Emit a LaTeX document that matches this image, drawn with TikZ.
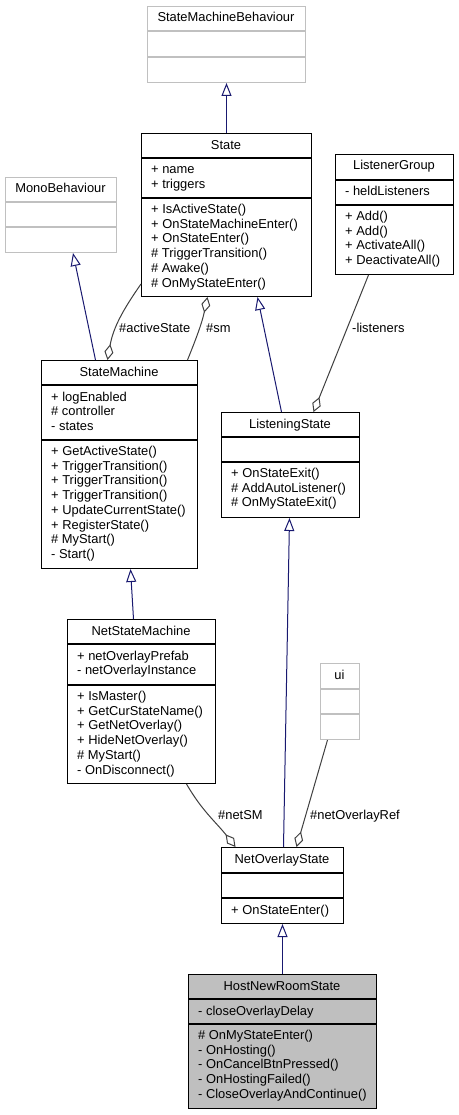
\documentclass[tikz,border=0pt]{standalone}
\usepackage{fontspec}
\setmainfont{Liberation Sans}
\usetikzlibrary{arrows.meta}
\definecolor{inh}{HTML}{191970}
\definecolor{agg}{HTML}{404040}
\definecolor{extgrey}{HTML}{C0C0C0}
\definecolor{hfill}{HTML}{BFBFBF}
\begin{document}
\begin{tikzpicture}[x=1pt,y=-1pt,
  every node/.style={font=\fontsize{12.9}{14.7}\selectfont},
  cls/.style={draw=black,line width=1pt,fill=white,inner sep=0,anchor=north west},
  extcls/.style={draw=extgrey,line width=1pt,fill=white,inner sep=0,anchor=north west},
  hcls/.style={draw=black,line width=1pt,fill=hfill,inner sep=0,anchor=north west},
  div/.style={draw=black,line width=1.5pt},
  extdiv/.style={draw=extgrey,line width=1.2pt},
  txt/.style={anchor=base west,inner sep=0},
  ttl/.style={anchor=base,inner sep=0},
  lbl/.style={anchor=base west,inner sep=0},
  inherit/.style={draw=inh,line width=1pt,-{Triangle[open,length=13pt,width=10pt]}},
  aggr/.style={draw=agg,line width=1pt,-{Diamond[open,length=16pt,width=9pt]}},
]
\newcommand\mline[4]{\node[txt] (#1) at (#2,#3) {#4};}
\useasboundingbox[fill=white] (0,0) rectangle (458,1115);

% StateMachineBehaviour
\node[extcls,minimum width=158,minimum height=76] (smb) at (147,6) {};
\draw[extdiv] (147,31) -- (305,31);
\draw[extdiv] (147,57) -- (305,57);
\node[ttl] (smb-t) at (226,22) {StateMachineBehaviour};

% State
\node[cls,minimum width=170,minimum height=163] (state) at (141,133) {};
\draw[div] (141,158) -- (311,158);
\draw[div] (141,198) -- (311,198);
\node[ttl] (state-t) at (226,149.3) {State};
\mline{st-a1}{151}{174}{+ name}
\mline{st-a2}{151}{188.7}{+ triggers}
\mline{st-m1}{151}{213.5}{+ IsActiveState()}
\mline{st-m2}{151}{228.2}{+ OnStateMachineEnter()}
\mline{st-m3}{151}{242.9}{+ OnStateEnter()}
\mline{st-m4}{151}{257.6}{\# TriggerTransition()}
\mline{st-m5}{151}{272.3}{\# Awake()}
\mline{st-m6}{151}{287}{\# OnMyStateEnter()}

% ListenerGroup
\node[cls,minimum width=118,minimum height=120] (lg) at (335,154) {};
\draw[div] (335,180) -- (453,180);
\draw[div] (335,205) -- (453,205);
\node[ttl] (lg-t) at (394,170) {ListenerGroup};
\mline{lg-a1}{345}{196}{- heldListeners}
\mline{lg-m1}{345}{220.5}{+ Add()}
\mline{lg-m2}{345}{235.2}{+ Add()}
\mline{lg-m3}{345}{249.9}{+ ActivateAll()}
\mline{lg-m4}{345}{264.6}{+ DeactivateAll()}

% MonoBehaviour
\node[extcls,minimum width=111,minimum height=75] (mono) at (5,177) {};
\draw[extdiv] (5,202) -- (116,202);
\draw[extdiv] (5,227) -- (116,227);
\node[ttl] (mono-t) at (60.5,193) {MonoBehaviour};

% StateMachine
\node[cls,minimum width=156,minimum height=208] (sm) at (41,360) {};
\draw[div] (41,385) -- (197,385);
\draw[div] (41,440) -- (197,440);
\node[ttl] (sm-t) at (119,376) {StateMachine};
\mline{sm-a1}{51}{401}{+ logEnabled}
\mline{sm-a2}{51}{415.7}{\# controller}
\mline{sm-a3}{51}{430.4}{- states}
\mline{sm-m1}{51}{455.5}{+ GetActiveState()}
\mline{sm-m2}{51}{470.2}{+ TriggerTransition()}
\mline{sm-m3}{51}{484.9}{+ TriggerTransition()}
\mline{sm-m4}{51}{499.6}{+ TriggerTransition()}
\mline{sm-m5}{51}{514.3}{+ UpdateCurrentState()}
\mline{sm-m6}{51}{529}{+ RegisterState()}
\mline{sm-m7}{51}{543.7}{\# MyStart()}
\mline{sm-m8}{51}{558.4}{- Start()}

% ListeningState
\node[cls,minimum width=138,minimum height=105] (ls) at (221,412) {};
\draw[div] (221,437) -- (359,437);
\draw[div] (221,462) -- (359,462);
\node[ttl] (ls-t) at (290,428) {ListeningState};
\mline{ls-m1}{231}{477.5}{+ OnStateExit()}
\mline{ls-m2}{231}{492.2}{\# AddAutoListener()}
\mline{ls-m3}{231}{506.9}{\# OnMyStateExit()}

% NetStateMachine
\node[cls,minimum width=148,minimum height=164] (nsm) at (67,619) {};
\draw[div] (67,644) -- (215,644);
\draw[div] (67,685) -- (215,685);
\node[ttl] (nsm-t) at (141,635) {NetStateMachine};
\mline{nsm-a1}{77}{660}{+ netOverlayPrefab}
\mline{nsm-a2}{77}{674.7}{- netOverlayInstance}
\mline{nsm-m1}{77}{700.5}{+ IsMaster()}
\mline{nsm-m2}{77}{715.2}{+ GetCurStateName()}
\mline{nsm-m3}{77}{729.9}{+ GetNetOverlay()}
\mline{nsm-m4}{77}{744.6}{+ HideNetOverlay()}
\mline{nsm-m5}{77}{759.3}{\# MyStart()}
\mline{nsm-m6}{77}{774}{- OnDisconnect()}

% ui
\node[extcls,minimum width=39,minimum height=76] (ui) at (320,663) {};
\draw[extdiv] (320,689) -- (359,689);
\draw[extdiv] (320,714) -- (359,714);
\node[ttl] (ui-t) at (339.5,679) {ui};

% NetOverlayState
\node[cls,minimum width=122,minimum height=76] (nos) at (221,847) {};
\draw[div] (221,873) -- (343,873);
\draw[div] (221,898) -- (343,898);
\node[ttl] (nos-t) at (282,863) {NetOverlayState};
\mline{nos-m1}{231}{914}{+ OnStateEnter()}

% HostNewRoomState
\node[hcls,minimum width=188,minimum height=134] (hnrs) at (188,974) {};
\draw[div] (188,999) -- (376,999);
\draw[div] (188,1024) -- (376,1024);
\node[ttl] (hnrs-t) at (282,990) {HostNewRoomState};
\mline{h-a1}{198}{1015}{- closeOverlayDelay}
\mline{h-m1}{198}{1039.5}{\# OnMyStateEnter()}
\mline{h-m2}{198}{1054.2}{- OnHosting()}
\mline{h-m3}{198}{1068.9}{- OnCancelBtnPressed()}
\mline{h-m4}{198}{1083.6}{- OnHostingFailed()}
\mline{h-m5}{198}{1098.3}{- CloseOverlayAndContinue()}

% inheritance
\draw[inherit] (state.north) -- (smb.south);
\draw[inherit] ([xshift=-24]sm.north) -- ([xshift=12]mono.south);
\draw[inherit] ([xshift=-9]ls.north) -- ([xshift=31]state.south);
\draw[inherit] ([xshift=-8]nsm.north) -- ([xshift=11]sm.south);
\draw[inherit] ([xshift=1]nos.north) -- ([xshift=-1]ls.south);
\draw[inherit] (hnrs.north) -- (nos.south);

% aggregation
\draw[aggr] ([yshift=13]state.south west) to[out=235,in=80] ([xshift=-12]sm.north);
\draw[aggr] ([xshift=68]sm.north) to[out=68,in=258] ([xshift=-19]state.south);
\draw[aggr] ([xshift=-26]lg.south) -- ([xshift=23]ls.north);
\draw[aggr] ([xshift=45]nsm.south) to[out=-60,in=128] ([xshift=-47]nos.north);
\draw[aggr] ([xshift=-12.5]ui.south) -- ([xshift=14]nos.north);

% labels
\node[lbl] (l-as) at (119,332) {\#activeState};
\node[lbl] (l-sm) at (206,332) {\#sm};
\node[lbl] (l-li) at (352,332) {-listeners};
\node[lbl] (l-ns) at (218,819) {\#netSM};
\node[lbl] (l-no) at (310,819) {\#netOverlayRef};
\end{tikzpicture}
\end{document}
